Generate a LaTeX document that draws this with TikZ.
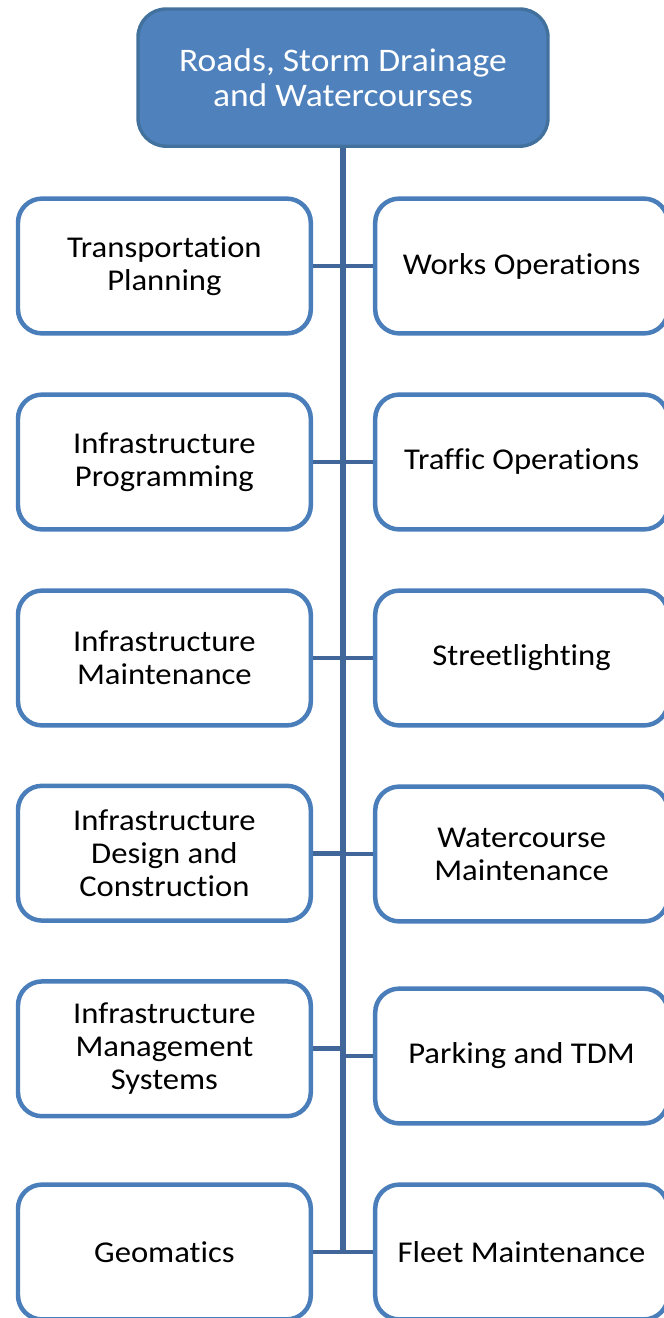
\documentclass[tikz,border=0pt]{standalone}
\usepackage{fontspec}
\setmainfont{Carlito}[FakeStretch=1.08,Ligatures={NoCommon}]
\definecolor{headfill}{HTML}{4F81BD}
\definecolor{headline}{HTML}{41719C}
\definecolor{unitline}{HTML}{4A7EBB}
\definecolor{linkblue}{HTML}{41679A}

\begin{document}
\begin{tikzpicture}[
  head/.style={draw=headline,line width=2.4pt,fill=headfill,text=white,rounded corners=0.7cm,minimum width=10.25cm,minimum height=3.43cm,align=center,font=\fontsize{23.4}{24.9}\selectfont},
  unit/.style={draw=unitline,line width=3.2pt,fill=white,rounded corners=0.6cm,minimum width=7.32cm,minimum height=3.37cm,align=center,font=\fontsize{21.5}{23.5}\selectfont},
  link/.style={draw=linkblue,line width=3.4pt}]
  \useasboundingbox (0,0) rectangle (16.6,-32.95);

  % Division
  \node[head] (roads) at (8.575,-1.94) {Roads, Storm Drainage\\and Watercourses};

  % Left column
  \node[unit] (transplan) at (4.11,-6.65) {Transportation\\Planning};
  \node[unit] (infprog) at (4.11,-11.55) {Infrastructure\\Programming};
  \node[unit] (infmaint) at (4.11,-16.45) {Infrastructure\\Maintenance};
  \node[unit] (infdesign) at (4.11,-21.33) {Infrastructure\\Design and\\Construction};
  \node[unit] (infmgmt) at (4.11,-26.22) {Infrastructure\\Management\\Systems};
  \node[unit] (geomatics) at (4.11,-31.3) {Geomatics};

  % Right column
  \node[unit] (worksops) at (13.04,-6.65) {Works Operations};
  \node[unit] (trafficops) at (13.04,-11.55) {Traffic Operations};
  \node[unit] (streetlight) at (13.04,-16.45) {Streetlighting};
  \node[unit] (wcmaint) at (13.04,-21.35) {Watercourse\\Maintenance};
  \node[unit] (parking) at (13.04,-26.4) {Parking and TDM};
  \node[unit] (fleet) at (13.04,-31.3) {Fleet Maintenance};

  % Trunk
  \coordinate (trunkend) at (roads.south |- geomatics.east);
  \draw[link,line width=4.2pt] (roads.south) -- (trunkend);

  % Branches
  \draw[link] (transplan.east) -- (transplan.east -| roads.south);
  \draw[link] (infprog.east) -- (infprog.east -| roads.south);
  \draw[link] (infmaint.east) -- (infmaint.east -| roads.south);
  \draw[link] (infdesign.east) -- (infdesign.east -| roads.south);
  \draw[link] (infmgmt.east) -- (infmgmt.east -| roads.south);
  \draw[link] (geomatics.east) -- (trunkend);
  \draw[link] (worksops.west -| roads.south) -- (worksops.west);
  \draw[link] (trafficops.west -| roads.south) -- (trafficops.west);
  \draw[link] (streetlight.west -| roads.south) -- (streetlight.west);
  \draw[link] (wcmaint.west -| roads.south) -- (wcmaint.west);
  \draw[link] (parking.west -| roads.south) -- (parking.west);
  \draw[link] (trunkend) -- (fleet.west);

\end{tikzpicture}
\end{document}
